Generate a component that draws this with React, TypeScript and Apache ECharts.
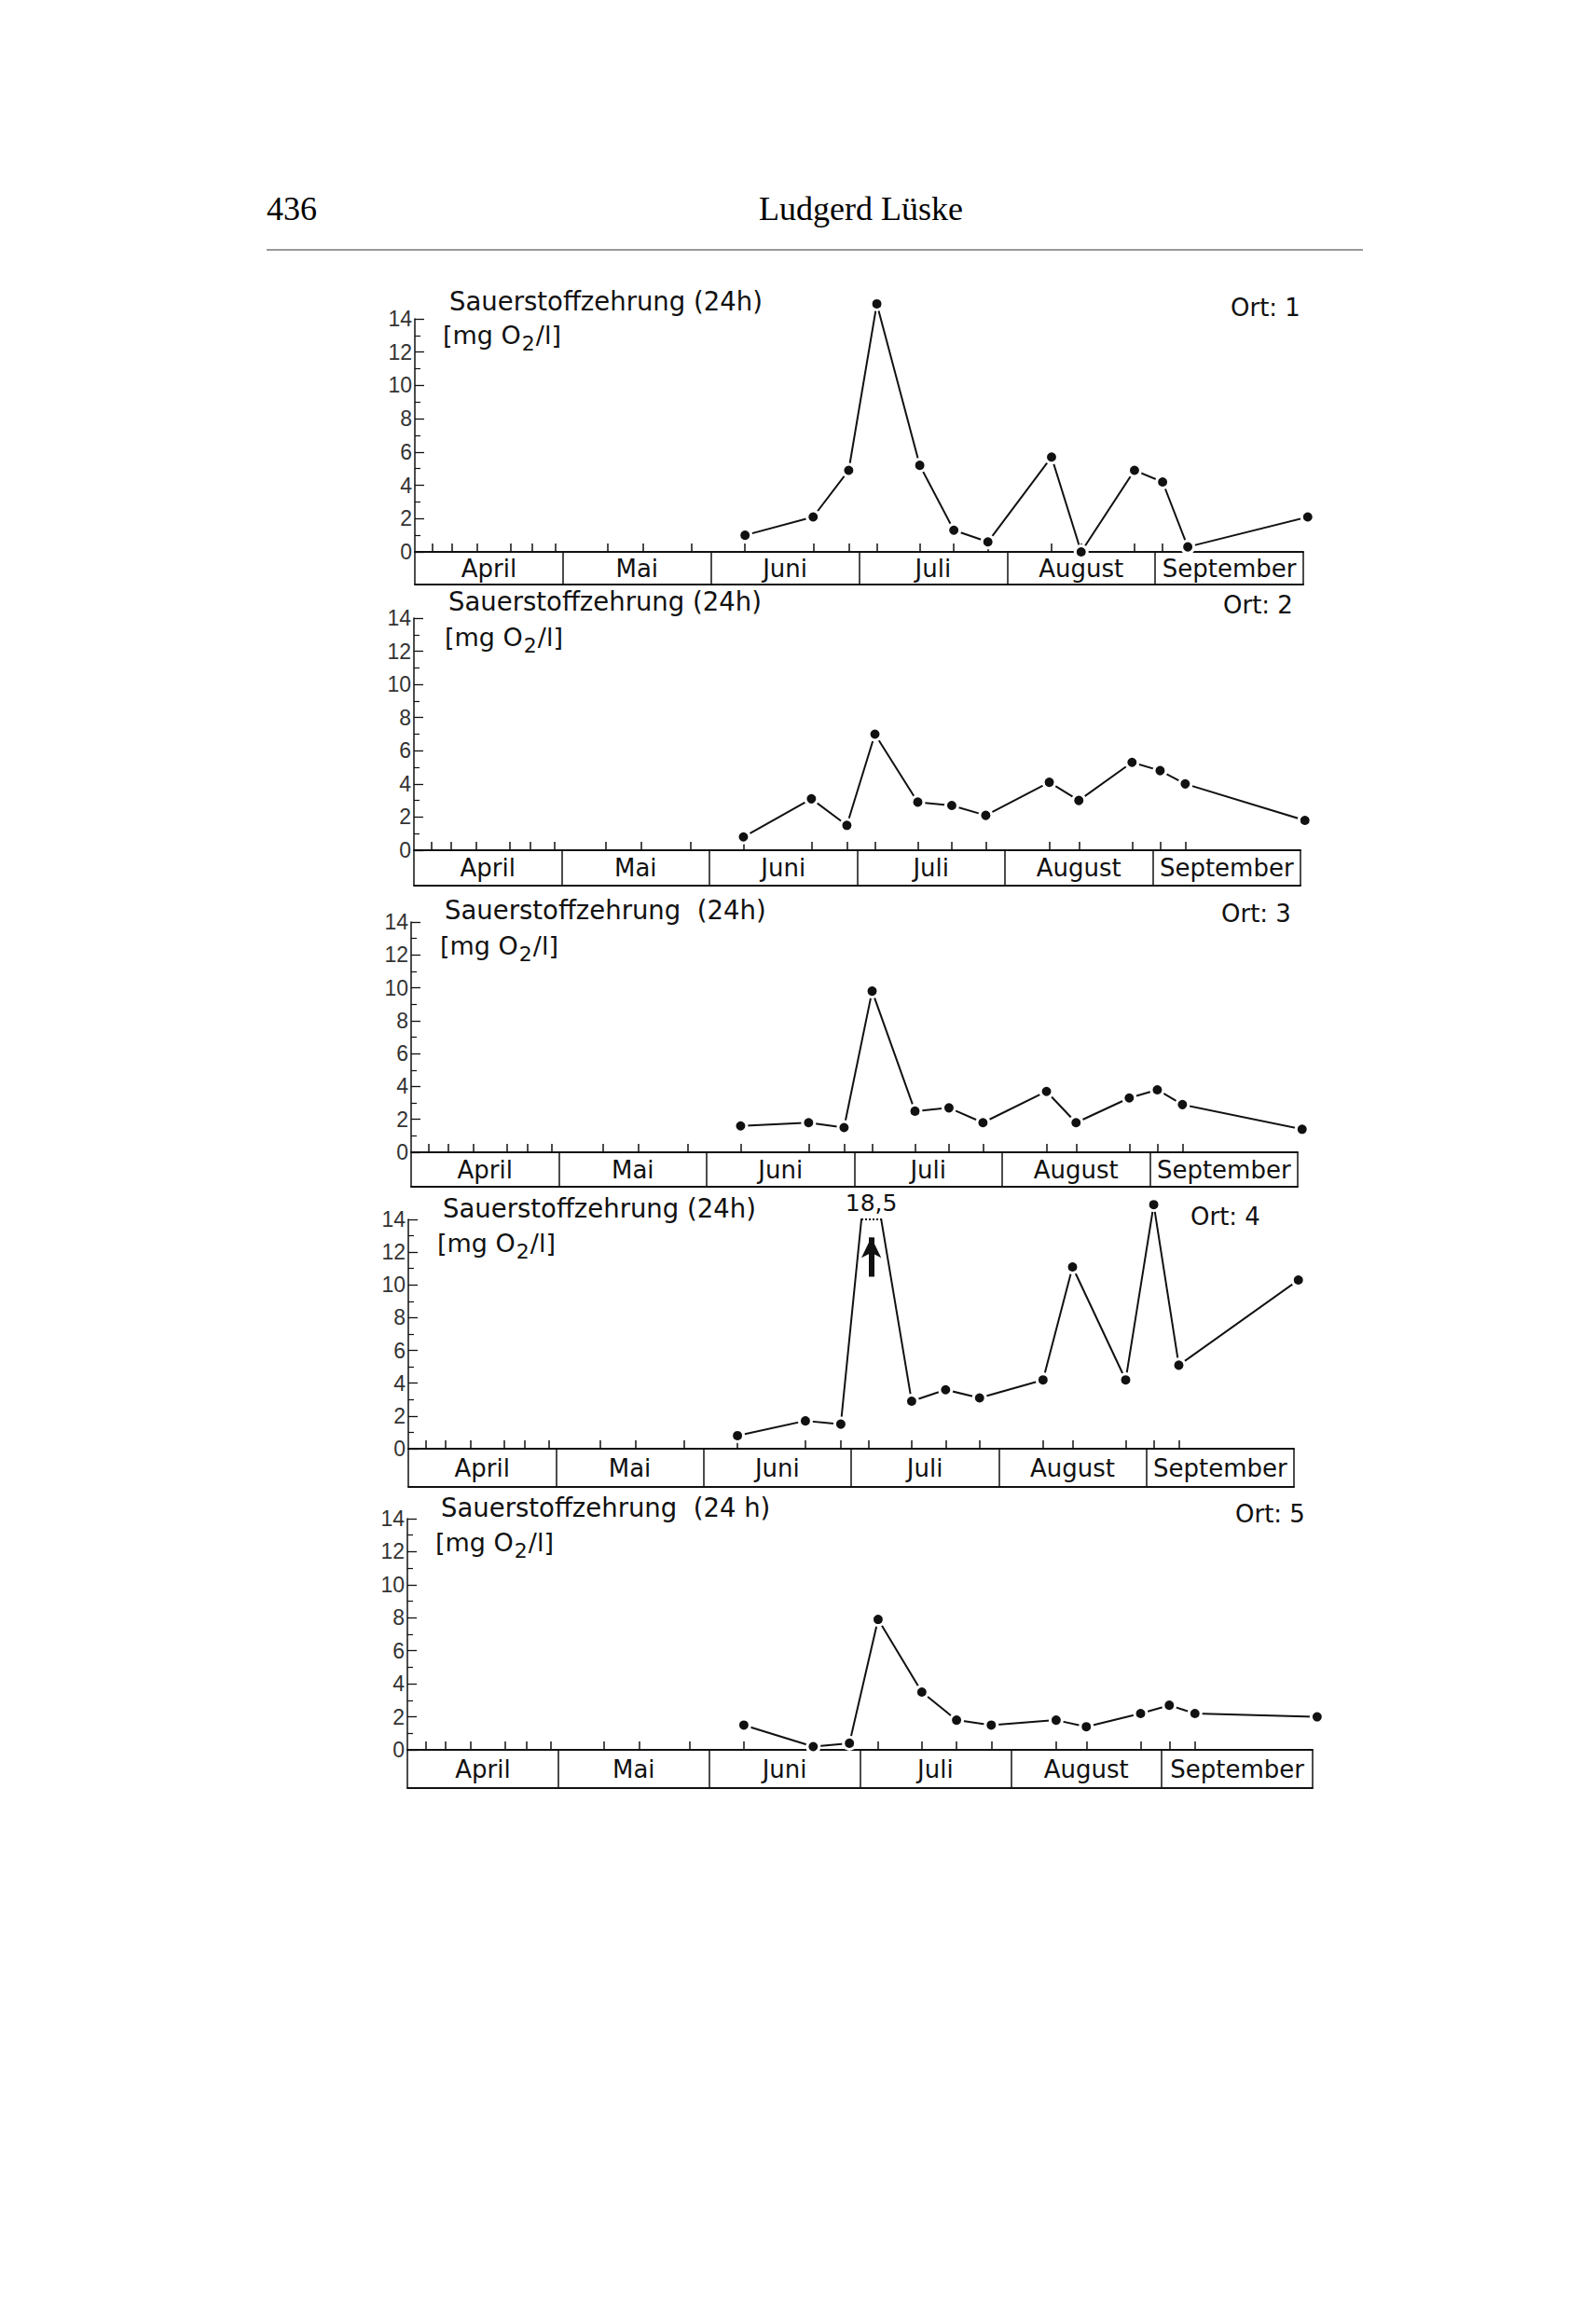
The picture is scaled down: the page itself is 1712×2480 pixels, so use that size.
import React, { useEffect, useRef } from "react";
import * as echarts from "echarts";

// ---------- data ----------
const months = ["April", "Mai", "Juni", "Juli", "August", "September"];
// time axis in months counted from 1 April (April = 0..1, Mai = 1..2, ...)
const idleTicks = [0.12, 0.25, 0.42, 0.65, 0.79, 0.95, 1.3, 1.54, 1.87]; // marks without values
const sampleTimes = [2.23, 2.69, 2.93, 3.12, 3.41, 3.64, 3.87, 4.3, 4.5, 4.86, 5.05, 5.22, 6.03];
const ort1 = [1.0, 2.1, 4.9, 14.9, 5.2, 1.3, 0.6, 5.7, 0.0, 4.9, 4.2, 0.3, 2.1];
const ort2 = [0.8, 3.1, 1.5, 7.0, 2.9, 2.7, 2.1, 4.1, 3.0, 5.3, 4.8, 4.0, 1.8];
const ort3 = [1.6, 1.8, 1.5, 9.8, 2.5, 2.7, 1.8, 3.7, 1.8, 3.3, 3.8, 2.9, 1.4];
const ort4 = [0.8, 1.7, 1.5, 18.5, 2.9, 3.6, 3.1, 4.2, 11.1, 4.2, 14.9, 5.1, 10.3];
const ort5 = [1.5, 0.2, 0.4, 7.9, 3.5, 1.8, 1.5, 1.8, 1.4, 2.2, 2.7, 2.2, 2.0];
const ortValues = [ort1, ort2, ort3, ort4, ort5];
const ortLabels = ["Ort: 1", "Ort: 2", "Ort: 3", "Ort: 4", "Ort: 5"];
const titles = [
  "Sauerstoffzehrung (24h)",
  "Sauerstoffzehrung (24h)",
  "Sauerstoffzehrung  (24h)",
  "Sauerstoffzehrung (24h)",
  "Sauerstoffzehrung  (24 h)",
];
const yMin = 0;
const yMax = 14;
const yInterval = 2;
const offScale = 16; // values above this are drawn cut off at the top
const pageNumber = "436";
const author = "Ludgerd Lüske";

// ---------- layout ----------
const INK = "#111";
const FONT = '"DejaVu Sans", sans-serif';
const SERIF = '"Liberation Serif", "DejaVu Serif", serif';
const layout = [
  { left: 445, top: 342, width: 953, height: 250, box: 35, title: [482, 333], unit: [475, 372], ort: [1320, 339] },
  { left: 444, top: 663, width: 951, height: 249, box: 38, title: [481, 655], unit: [477, 696], ort: [1312, 658] },
  { left: 441, top: 989, width: 951, height: 247, box: 37, title: [477, 986], unit: [472, 1027], ort: [1310, 989] },
  { left: 438, top: 1308, width: 950, height: 246, box: 41, title: [475, 1306], unit: [469, 1346], ort: [1277, 1314] },
  { left: 437, top: 1629, width: 971, height: 248, box: 41, title: [473, 1627], unit: [467, 1667], ort: [1325, 1633] },
];
const arrowSpan = [10.5, 12.9];

function clipX(x1: number, y1: number, x2: number, y2: number, yc: number) {
  return x1 + ((yc - y1) / (y2 - y1)) * (x2 - x1);
}

function textEl(str: string, x: number, baseline: number, size: number, family: string, extra: any = {}) {
  return {
    type: "text",
    x,
    y: baseline - size * 0.35,
    silent: true,
    style: {
      text: str,
      fill: INK,
      font: `${size}px ${family}`,
      textAlign: "left",
      align: "left",
      textVerticalAlign: "middle",
      verticalAlign: "middle",
      ...extra,
    },
  };
}

function buildOption() {
  const grid: any[] = [];
  const xAxis: any[] = [];
  const yAxis: any[] = [];
  const series: any[] = [];
  const graphic: any[] = [];

  graphic.push(textEl(pageNumber, 286, 237, 36, SERIF, { fill: "#000" }));
  graphic.push(textEl(author, 814, 237, 36, SERIF, { fill: "#000" }));
  graphic.push({
    type: "line",
    silent: true,
    shape: { x1: 286, y1: 268, x2: 1462, y2: 268 },
    style: { stroke: "#777", lineWidth: 1.5 },
  });

  layout.forEach((p, i) => {
    grid.push({ left: p.left, top: p.top, width: p.width, height: p.height });
    xAxis.push({
      type: "value",
      gridIndex: i,
      min: 0,
      max: months.length,
      axisLine: { show: true, onZero: false, lineStyle: { color: INK, width: 2 } },
      axisTick: {
        show: true,
        inside: true,
        length: 9,
        customValues: [...idleTicks, ...sampleTimes],
        lineStyle: { color: INK, width: 1.5 },
      },
      axisLabel: { show: false },
      splitLine: { show: false },
    });
    xAxis.push({
      type: "category",
      gridIndex: i,
      data: months,
      position: "bottom",
      offset: p.box,
      boundaryGap: true,
      axisLine: { show: true, onZero: false, lineStyle: { color: INK, width: 2 } },
      axisTick: {
        show: true,
        inside: true,
        length: p.box,
        interval: 0,
        alignWithLabel: false,
        lineStyle: { color: INK, width: 1.5 },
      },
      axisLabel: {
        show: true,
        inside: true,
        interval: 0,
        margin: p.box / 2,
        verticalAlign: "middle",
        fontFamily: FONT,
        fontSize: 26,
        color: INK,
      },
      splitLine: { show: false },
    });
    yAxis.push({
      type: "value",
      gridIndex: i,
      min: yMin,
      max: yMax,
      interval: yInterval,
      axisLine: { show: true, onZero: false, lineStyle: { color: INK, width: 1.5 } },
      axisTick: { show: true, inside: true, length: 10, lineStyle: { color: INK, width: 1.3 } },
      minorTick: { show: true, splitNumber: 2, length: 6, lineStyle: { color: INK, width: 1.2 } },
      axisLabel: { margin: 3, fontFamily: '"Liberation Sans", sans-serif', fontSize: 23, color: "#333" },
      splitLine: { show: false },
      minorSplitLine: { show: false },
    });

    const vals = ortValues[i];
    const mainData = sampleTimes.map((x, k) => [x, vals[k] > offScale ? "-" : vals[k]]);
    const main: any = {
      type: "line",
      xAxisIndex: 2 * i,
      yAxisIndex: i,
      data: mainData,
      clip: false,
      connectNulls: false,
      symbol: "circle",
      symbolSize: 13,
      itemStyle: { color: INK, borderColor: "#fff", borderWidth: 3 },
      lineStyle: { color: INK, width: 2 },
      z: 3,
      silent: true,
    };
    series.push(main);

    vals.forEach((v, k) => {
      if (v <= offScale || k === 0 || k === vals.length - 1) return;
      const x0 = sampleTimes[k - 1], y0 = vals[k - 1];
      const x1 = sampleTimes[k], y1 = v;
      const x2 = sampleTimes[k + 1], y2 = vals[k + 1];
      const xa = clipX(x0, y0, x1, y1, yMax);
      const xb = clipX(x1, y1, x2, y2, yMax);
      const xc = (xa + xb) / 2;
      series.push({
        type: "line",
        xAxisIndex: 2 * i,
        yAxisIndex: i,
        data: [[x0, y0], [x1, y1], [x2, y2]],
        clip: true,
        showSymbol: false,
        symbol: "none",
        lineStyle: { color: INK, width: 2 },
        z: 2,
        silent: true,
        markLine: {
          silent: true,
          symbol: "none",
          label: { show: false },
          lineStyle: { color: INK, width: 2, type: "dotted" },
          data: [[{ coord: [xa, yMax] }, { coord: [xb, yMax] }]],
        },
        markPoint: {
          silent: true,
          symbol: "circle",
          symbolSize: 1,
          itemStyle: { color: "rgba(0,0,0,0)" },
          label: {
            show: true,
            position: "top",
            distance: 5,
            formatter: String(v).replace(".", ","),
            fontFamily: FONT,
            fontSize: 25,
            color: INK,
          },
          data: [{ coord: [xc, yMax] }],
        },
      });
      main.markLine = {
        silent: true,
        symbol: ["none", "arrow"],
        symbolSize: [16, 22],
        label: { show: false },
        lineStyle: { color: INK, width: 6, type: "solid" },
        data: [[{ coord: [xc, arrowSpan[0]] }, { coord: [xc, arrowSpan[1]] }]],
      };
    });

    graphic.push(textEl(titles[i], p.title[0], p.title[1], 27.5, FONT));
    graphic.push(textEl(ortLabels[i], p.ort[0], p.ort[1], 26, FONT));
    graphic.push({
      type: "text",
      x: p.unit[0],
      y: p.unit[1] - 26.5,
      silent: true,
      style: {
        text: "{n|[mg O}{s|2}{n|/l]}",
        fill: INK,
        textVerticalAlign: "top",
        verticalAlign: "top",
        rich: {
          n: { fontSize: 27, fontFamily: FONT, lineHeight: 34, verticalAlign: "top", fill: INK, color: INK },
          s: {
            fontSize: 22,
            fontFamily: FONT,
            lineHeight: 34,
            verticalAlign: "bottom",
            padding: [8, 1, 0, 1],
            fill: INK,
            color: INK,
          },
        },
      },
    });
  });

  return {
    animation: false,
    backgroundColor: "#fff",
    grid,
    xAxis,
    yAxis,
    series,
    graphic,
  };
}

export default function App() {
  const ref = useRef<HTMLDivElement>(null);
  useEffect(() => {
    if (!ref.current) return;
    const chart = echarts.init(ref.current, undefined, { renderer: "svg" });
    chart.setOption(buildOption() as any);
    return () => chart.dispose();
  }, []);
  return (
    <div
      ref={ref}
      style={{ position: "absolute", left: 0, top: 0, width: 1712, height: 2480, background: "#fff" }}
    />
  );
}
